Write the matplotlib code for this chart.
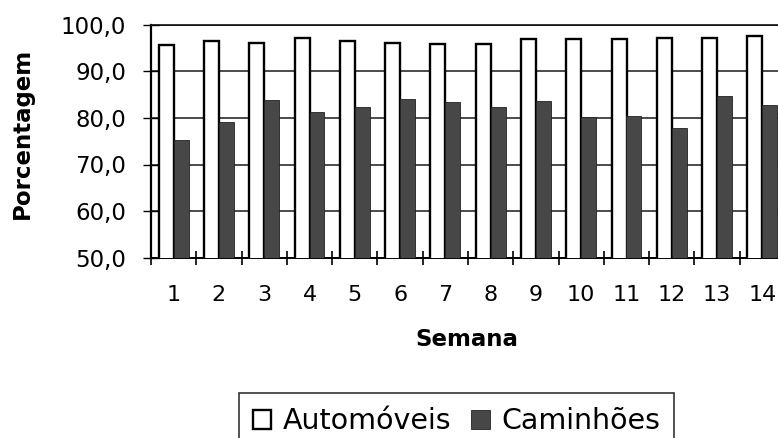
import matplotlib
matplotlib.use("Agg")
import matplotlib.pyplot as plt
import numpy as np
from matplotlib.ticker import FixedLocator, FuncFormatter

plt.rcParams['font.family'] = ['DejaVu Sans']

semanas = list(range(1, 15))
automoveis = [95.6, 96.5, 96.2, 97.2, 96.6, 96.2, 95.9, 95.9, 96.9, 96.9, 96.9, 97.1, 97.1, 97.6]
caminhoes = [75.2, 79.2, 83.8, 81.2, 82.4, 84.0, 83.4, 82.4, 83.7, 80.2, 80.5, 77.8, 84.7, 82.8]

W, H = 778, 438
fig = plt.figure(figsize=(W / 100, H / 100), dpi=100)
fig.patch.set_facecolor('white')

# axes box in pixel units: left 151, right 785 (runs past the edge), top 25, bottom 257.5
left, right, top, bottom = 151, 785, 25, 257.5
ax = fig.add_axes([left / W, 1 - bottom / H, (right - left) / W, (bottom - top) / H])

x = np.array(semanas, dtype=float)
bw = 0.33
ax.bar(x - 0.165, automoveis, width=bw, bottom=0, color='white', edgecolor='black',
       linewidth=1.7, zorder=3, label='Automóveis')
ax.bar(x + 0.165, caminhoes, width=bw, bottom=0, color='#474747', edgecolor='#222222',
       linewidth=0.6, zorder=3, label='Caminhões')

ax.set_xlim(0.5, 14.5)
ax.set_ylim(50, 100)

# horizontal gridlines
ax.yaxis.set_major_locator(FixedLocator([50, 60, 70, 80, 90, 100]))
ax.yaxis.set_major_formatter(FuncFormatter(lambda v, p: f"{v:.1f}".replace('.', ',')))
ax.grid(axis='y', color='#1a1a1a', linewidth=1.1, zorder=0)
ax.set_axisbelow(True)

# category labels at centres, tick marks at category boundaries
ax.xaxis.set_major_locator(FixedLocator(semanas))
ax.set_xticklabels([str(s) for s in semanas])
ax.xaxis.set_minor_locator(FixedLocator(np.arange(0.5, 15.0, 1.0)))
ax.tick_params(axis='x', which='major', length=0, pad=20, labelsize=16)
ax.tick_params(axis='x', which='minor', direction='inout', length=10, width=1.2)
ax.tick_params(axis='y', which='major', direction='inout', length=12, width=1.0,
               pad=12, labelsize=16.5)

for s in ['right']:
    ax.spines[s].set_visible(False)
ax.spines['top'].set_linewidth(1.1)
ax.spines['left'].set_linewidth(1.6)
ax.spines['bottom'].set_linewidth(1.4)

fig.text(22 / W, 1 - 133 / H, 'Porcentagem', rotation=90, ha='center', va='center',
         fontsize=16.5, fontweight='bold')
fig.text(467 / W, 1 - 340 / H, 'Semana', ha='center', va='center',
         fontsize=16.5, fontweight='bold')

leg = fig.legend(loc='upper center', bbox_to_anchor=(456.5 / W, 1 - 393 / H),
                 ncol=2, fontsize=20.5, frameon=True, fancybox=False,
                 edgecolor='black', handlelength=0.65, handleheight=0.65,
                 handletextpad=0.4, columnspacing=0.7, borderpad=0.5,
                 borderaxespad=0)
leg.get_frame().set_linewidth(1.2)

fig.savefig('out.png', dpi=100, facecolor='white')
